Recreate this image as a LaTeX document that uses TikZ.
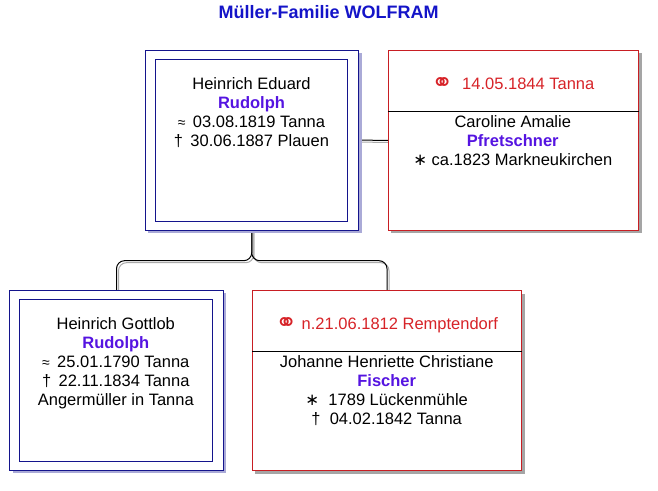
\documentclass[tikz,border=0pt]{standalone}
\usepackage{fontspec}
\setmainfont{Liberation Sans}
\newfontfamily\symfont{DejaVu Sans}
\usepackage{tikz}
\usetikzlibrary{shadows,backgrounds}
\definecolor{rahmenblau}{RGB}{20,20,140}
\definecolor{rahmenrot}{RGB}{200,30,35}
\definecolor{schriftrot}{RGB}{215,35,40}
\definecolor{namenlila}{RGB}{85,20,225}
\definecolor{titelblau}{RGB}{20,20,200}
\definecolor{schattenblau}{RGB}{170,170,215}
\definecolor{schattengrau}{RGB}{165,165,165}
\definecolor{liniengrau}{RGB}{170,170,170}
\newcommand{\nm}[1]{{\bfseries\color{namenlila}#1}}
\newcommand{\tauf}{{\fontsize{14}{14}\selectfont\raisebox{0.5pt}{≈}}}
\newcommand{\kreuz}{†}
\newcommand{\stern}{{\symfont∗}}
\newcommand{\ehe}{{\symfont\fontsize{26}{26}\selectfont\raisebox{-1.5pt}{⚭}}}
\tikzstyle{texto}=[inner sep=0pt,align=center,font=\fontsize{16.5}{19}\selectfont]
\tikzstyle{mann}=[draw=rahmenblau,line width=1pt,fill=white,inner sep=0pt,
  minimum width=213.5pt,minimum height=179.7pt,
  drop shadow={opacity=1,fill=schattenblau,shadow xshift=3pt,shadow yshift=-3pt}]
\tikzstyle{innen}=[draw=rahmenblau,line width=1pt,inner sep=0pt,
  minimum width=192.4pt,minimum height=161.8pt]
\tikzstyle{frau}=[draw=rahmenrot,line width=1pt,fill=white,inner sep=0pt,minimum height=180pt,
  drop shadow={opacity=1,fill=schattengrau,shadow xshift=3pt,shadow yshift=-3pt}]
\tikzstyle{linie}=[line width=1pt,rounded corners=8pt]
\tikzstyle{grau}=[linie,draw=liniengrau]

\begin{document}
\begin{tikzpicture}[x=1pt,y=-1pt]
    \useasboundingbox (0,0) rectangle (658,490);
    \node [texto,font=\fontsize{18}{20}\selectfont\bfseries,text=titelblau,anchor=base] (titel) at (328.7,18.5) {Müller-Familie WOLFRAM};
    % oben
    \node [mann] (eduard) at (251.9,140.2) {};
    \node [innen] (eduardi) at (251.5,140.2) {};
    \node [frau,minimum width=250.4pt] (caroline) at (513.5,140.3) {};
    \draw [line width=1pt] ([yshift=-61.4pt]caroline.north west) -- ([yshift=-61.4pt]caroline.north east);
    \node [texto,anchor=north] (eduardt) at (251.5,76.2) {\strut Heinrich Eduard\\ \nm{Rudolph}\\ \tauf\ \,03.08.1819 Tanna\\ \kreuz\ \,30.06.1887 Plauen};
    \node [texto,anchor=base,text=schriftrot] (ehe1) at (512.8,89.5) {\ehe\ \ 14.05.1844 Tanna};
    \node [texto,anchor=north] (carolinet) at (512.8,113.7) {\strut Caroline Amalie\\ \nm{Pfretschner}\\ \stern\ ca.1823 Markneukirchen};
    % unten
    \node [mann] (gottlob) at (116.5,380.2) {};
    \node [innen] (gottlobi) at (116,380.3) {};
    \node [frau,minimum width=269.4pt] (johanne) at (387,380.5) {};
    \draw [line width=1pt] ([yshift=-61.4pt]johanne.north west) -- ([yshift=-61.4pt]johanne.north east);
    \node [texto,anchor=north] (gottlobt) at (115.8,316.2) {\strut Heinrich Gottlob\\ \nm{Rudolph}\\ \tauf\ \,25.01.1790 Tanna\\ \kreuz\ \,22.11.1834 Tanna\\ Angermüller in Tanna};
    \node [texto,anchor=base,text=schriftrot] (ehe2) at (386.7,329.5) {\ehe\ n.21.06.1812 Remptendorf};
    \node [texto,anchor=north] (johannet) at (386.7,353.7) {\strut Johanne Henriette Christiane\\ \nm{Fischer}\\ \stern\ \ 1789 Lückenmühle\\ \kreuz\ \ 04.02.1842 Tanna};
    \coordinate (gabel) at (251.7,260.7);
    % Linien
    \begin{pgfonlayer}{background}
    \begin{scope}[transform canvas={xshift=2pt,yshift=-2pt}]
        \draw [grau] (eduard.south) -- (gabel) -| (gottlob.north);
        \draw [grau] (eduard.south) -- (gabel) -| (johanne.north);
    \end{scope}
    \draw [grau,transform canvas={yshift=-2pt}] (eduard.east) -- (caroline.west);
    \draw [linie] (eduard.south) -- (gabel) -| (gottlob.north);
    \draw [linie] (eduard.south) -- (gabel) -| (johanne.north);
    \draw [linie] (eduard.east) -- (caroline.west);
    \end{pgfonlayer}
\end{tikzpicture}
\end{document}
